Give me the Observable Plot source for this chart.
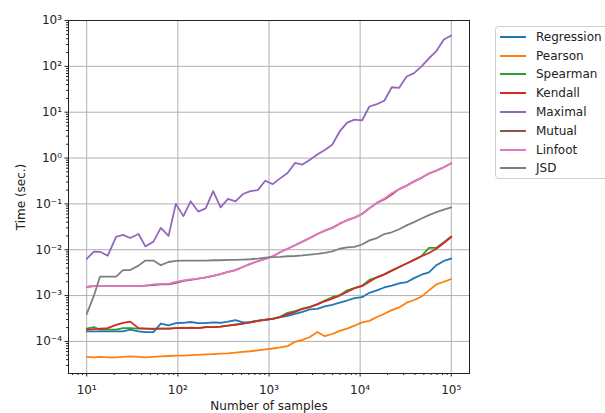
<!DOCTYPE html>
<html><head><meta charset="utf-8">
<script src="https://cdn.jsdelivr.net/npm/d3@7"></script>
<script src="https://cdn.jsdelivr.net/npm/@observablehq/plot@0.6"></script>
<style>
body{margin:0;background:#fff;font-family:"DejaVu Sans",sans-serif;}
#wrap{position:relative;width:605px;height:413px;overflow:hidden;}
#legend{position:absolute;left:495px;top:26px;width:118px;height:153px;border:1px solid #d0d0d0;border-radius:4px;box-sizing:border-box;padding-top:0.5px;background:#fff;}
.item{height:18.8px;display:flex;align-items:center;font-size:12px;color:#222;white-space:nowrap;}
.sw{width:26px;height:2px;margin-left:4px;margin-right:10px;flex:none;}
</style></head><body><div id="wrap"><div id="legend"></div></div>
<script>
const samples = [10,12,14,17,21,25,30,37,44,54,65,79,95,115,138,167,202,244,294,355,429,517,625,754,910,1098,1325,1599,1930,2329,2811,3393,4094,4941,5963,7196,8685,10481,12648,15264,18420,22229,26826,32374,39069,47148,56898,68664,82864,100000];

const regression = [1.65e-4,1.65e-4,1.65e-4,1.65e-4,1.65e-4,1.65e-4,1.8e-4,1.65e-4,1.6e-4,1.6e-4,
2.45e-4,2.25e-4,2.5e-4,2.55e-4,2.65e-4,2.5e-4,2.5e-4,2.6e-4,2.55e-4,2.7e-4,
2.9e-4,2.6e-4,2.6e-4,2.8e-4,3.0e-4,3.1e-4,3.4e-4,3.6e-4,4.0e-4,4.4e-4,
5.0e-4,5.1e-4,5.8e-4,6.3e-4,7.0e-4,7.8e-4,8.8e-4,9.2e-4,1.15e-3,1.3e-3,
1.5e-3,1.65e-3,1.85e-3,1.96e-3,2.4e-3,2.85e-3,3.2e-3,4.6e-3,5.7e-3,6.4e-3];

const pearson = [4.6e-5,4.5e-5,4.6e-5,4.5e-5,4.5e-5,4.6e-5,4.7e-5,4.6e-5,4.5e-5,4.6e-5,
4.7e-5,4.8e-5,4.9e-5,4.9e-5,5.0e-5,5.1e-5,5.2e-5,5.3e-5,5.4e-5,5.5e-5,
5.7e-5,5.9e-5,6.1e-5,6.4e-5,6.7e-5,7.0e-5,7.4e-5,7.9e-5,9.8e-5,1.08e-4,
1.25e-4,1.6e-4,1.3e-4,1.45e-4,1.7e-4,1.9e-4,2.2e-4,2.6e-4,2.8e-4,3.4e-4,
4.0e-4,4.8e-4,5.5e-4,7.0e-4,8.0e-4,9.5e-4,1.3e-3,1.75e-3,2.0e-3,2.3e-3];

const spearman = [1.9e-4,2.05e-4,1.8e-4,1.8e-4,1.8e-4,1.95e-4,1.95e-4,1.9e-4,1.9e-4,1.85e-4,
1.9e-4,1.9e-4,1.95e-4,2.0e-4,1.95e-4,1.95e-4,2.05e-4,2.05e-4,2.1e-4,2.2e-4,
2.35e-4,2.45e-4,2.65e-4,2.85e-4,2.95e-4,3.15e-4,3.45e-4,4.2e-4,4.6e-4,5.2e-4,
5.7e-4,6.5e-4,7.8e-4,9.2e-4,1.02e-3,1.3e-3,1.45e-3,1.65e-3,2.2e-3,2.5e-3,
2.9e-3,3.5e-3,4.2e-3,5.0e-3,6.0e-3,7.3e-3,1.1e-2,1.1e-2,1.45e-2,1.95e-2];

const kendall = [1.8e-4,1.85e-4,1.9e-4,1.95e-4,2.3e-4,2.55e-4,2.7e-4,1.95e-4,1.9e-4,1.9e-4,
1.9e-4,1.9e-4,1.95e-4,1.95e-4,2.0e-4,1.95e-4,2.05e-4,2.05e-4,2.1e-4,2.2e-4,
2.3e-4,2.45e-4,2.6e-4,2.8e-4,2.95e-4,3.1e-4,3.4e-4,3.9e-4,4.4e-4,5.1e-4,
5.6e-4,6.4e-4,7.5e-4,8.6e-4,1.0e-3,1.2e-3,1.45e-3,1.6e-3,2.0e-3,2.5e-3,
2.9e-3,3.5e-3,4.2e-3,5.0e-3,6.0e-3,7.2e-3,8.5e-3,1.05e-2,1.4e-2,1.9e-2];

const maximal = [6.3e-3,9.1e-3,9.0e-3,7.4e-3,1.9e-2,2.1e-2,1.8e-2,2.2e-2,1.18e-2,1.5e-2,
3.0e-2,2.0e-2,0.10,0.054,0.114,0.068,0.080,0.19,0.084,0.128,
0.114,0.164,0.19,0.20,0.32,0.27,0.36,0.47,0.78,0.72,
0.92,1.19,1.5,1.95,3.8,5.9,6.9,6.6,13.3,15,
17.8,35,34,60,71,100,150,215,385,470];

const mutual = [1.55e-3,1.6e-3,1.6e-3,1.6e-3,1.6e-3,1.6e-3,1.6e-3,1.6e-3,1.65e-3,1.7e-3,
1.75e-3,1.75e-3,1.9e-3,2.1e-3,2.2e-3,2.35e-3,2.5e-3,2.7e-3,2.95e-3,3.3e-3,
3.6e-3,4.2e-3,4.9e-3,5.6e-3,6.3e-3,7.2e-3,8.8e-3,1.05e-2,1.25e-2,1.5e-2,
1.8e-2,2.2e-2,2.6e-2,3.0e-2,3.7e-2,4.4e-2,5.0e-2,6.0e-2,8.0e-2,0.105,
0.125,0.16,0.21,0.25,0.31,0.37,0.46,0.53,0.63,0.77];

const linfoot = [1.55e-3,1.6e-3,1.6e-3,1.6e-3,1.6e-3,1.6e-3,1.6e-3,1.6e-3,1.65e-3,1.75e-3,
1.8e-3,1.8e-3,2.0e-3,2.15e-3,2.25e-3,2.35e-3,2.5e-3,2.7e-3,2.95e-3,3.3e-3,
3.6e-3,4.2e-3,4.9e-3,5.6e-3,6.3e-3,7.2e-3,8.8e-3,1.05e-2,1.25e-2,1.5e-2,
1.8e-2,2.2e-2,2.6e-2,3.0e-2,3.7e-2,4.4e-2,5.0e-2,6.0e-2,8.0e-2,0.105,
0.13,0.17,0.21,0.25,0.31,0.37,0.46,0.53,0.63,0.77];

const jsd = [4.0e-4,1.0e-3,2.6e-3,2.6e-3,2.6e-3,3.6e-3,3.6e-3,4.5e-3,5.8e-3,5.8e-3,
4.6e-3,5.4e-3,5.7e-3,5.8e-3,5.8e-3,5.8e-3,5.8e-3,5.9e-3,5.9e-3,6.0e-3,
6.0e-3,6.1e-3,6.2e-3,6.4e-3,6.7e-3,6.9e-3,7.0e-3,7.2e-3,7.3e-3,7.5e-3,
7.8e-3,8.1e-3,8.5e-3,9.2e-3,1.05e-2,1.12e-2,1.15e-2,1.3e-2,1.6e-2,1.8e-2,
2.2e-2,2.4e-2,2.8e-2,3.4e-2,4.0e-2,4.8e-2,5.7e-2,6.6e-2,7.5e-2,8.4e-2];

const seriesNames = ["Regression","Pearson","Spearman","Kendall","Maximal","Mutual","Linfoot","JSD"];
const seriesColors = ["#1f77b4","#ff7f0e","#2ca02c","#d62728","#9467bd","#8c564b","#e377c2","#7f7f7f"];
const seriesValues = [regression,pearson,spearman,kendall,maximal,mutual,linfoot,jsd];

const xTicks = [10,100,1000,10000,100000];
const xTickLabels = ["10¹","10²","10³","10⁴","10⁵"];
const yTicks = [1e-4,1e-3,1e-2,1e-1,1,10,100,1000];
const yTickLabels = ["10⁻⁴","10⁻³","10⁻²","10⁻¹","10⁰","10¹","10²","10³"];
const xLabel = "Number of samples";
const yLabel = "Time (sec.)";

const rows = [];
seriesNames.forEach((name, s) => seriesValues[s].forEach((v, i) => rows.push({series: name, n: samples[i], t: v})));

const minorX = [], minorY = [];
for (let k = 0; k <= 5; k++) for (let m = 2; m <= 9; m++) { const v = m * 10 ** k; if (v > 6.3 && v < 1.58e5) minorX.push(v); }
for (let k = -5; k <= 2; k++) for (let m = 2; m <= 9; m++) { const v = m * 10 ** k; if (v > 2e-5 && v < 1000) minorY.push(v); }

const chart = Plot.plot({
  width: 605, height: 413,
  marginLeft: 68, marginRight: 136, marginTop: 20, marginBottom: 40,
  style: {fontFamily: "DejaVu Sans", fontSize: "12px", color: "#222", background: "transparent"},
  x: {type: "log", domain: [10 ** 0.8, 10 ** 5.2]},
  y: {type: "log", domain: [10 ** -4.7, 1000]},
  color: {domain: seriesNames, range: seriesColors},
  marks: [
    Plot.gridX(xTicks, {stroke: "#b0b0b0", strokeOpacity: 1, strokeWidth: 1}),
    Plot.gridY(yTicks, {stroke: "#b0b0b0", strokeOpacity: 1, strokeWidth: 1}),
    Plot.axisX(minorX, {tickSize: 2, tickFormat: () => "", label: null}),
    Plot.axisY(minorY, {tickSize: 2, tickFormat: () => "", label: null}),
    Plot.axisX(xTicks, {tickSize: 3.5, tickPadding: 8, tickFormat: d => xTickLabels[xTicks.indexOf(d)],
      label: xLabel, labelAnchor: "center", labelArrow: "none", labelOffset: 36}),
    Plot.axisY(yTicks, {tickSize: 3.5, tickPadding: 3, tickFormat: d => yTickLabels[yTicks.indexOf(d)],
      label: yLabel, labelAnchor: "center", labelArrow: "none", labelOffset: 52}),
    Plot.line(rows, {x: "n", y: "t", z: "series", stroke: "series", strokeWidth: 1.8}),
    Plot.frame({stroke: "#222", strokeWidth: 1})
  ]
});
document.getElementById("wrap").prepend(chart);

const legend = document.getElementById("legend");
seriesNames.forEach((name, i) => {
  const it = document.createElement("div"); it.className = "item";
  const sw = document.createElement("div"); sw.className = "sw"; sw.style.background = seriesColors[i];
  const tx = document.createElement("span"); tx.textContent = name;
  it.appendChild(sw); it.appendChild(tx); legend.appendChild(it);
});
</script></body></html>
